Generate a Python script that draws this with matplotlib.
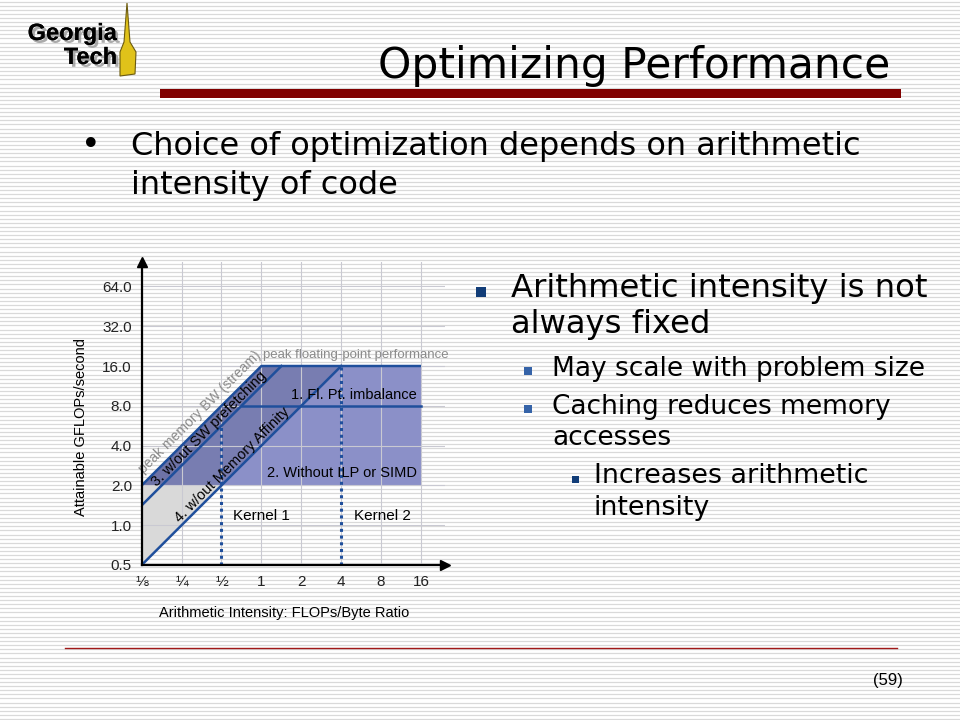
"""Slide: Optimizing Performance - roofline model chart with bullet text."""
import numpy as np
import matplotlib
matplotlib.use("Agg")
import matplotlib.pyplot as plt
import matplotlib.patheffects as pe
from matplotlib.patches import Polygon, Rectangle

# roofline data (GFLOPs/s vs FLOPs/Byte)
ai_ticks = [1 / 8, 1 / 4, 1 / 2, 1, 2, 4, 8, 16]
ai_labels = ["⅛", "¼", "½", "1", "2", "4", "8", "16"]
perf_ticks = [0.5, 1, 2, 4, 8, 16, 32, 64]
perf_labels = ["0.5", "1.0", "2.0", "4.0", "8.0", "16.0", "32.0", "64.0"]

peak_flops = 16.0          # peak floating-point performance
ceil_imbalance = 8.0       # 1. Fl. Pt. imbalance
ceil_no_ilp = 2.0          # 2. Without ILP or SIMD
bw_peak = 16.0             # peak memory BW (stream), GFLOPs per FLOP/Byte
bw_no_prefetch = 11.3      # 3. w/out SW prefetching
bw_no_affinity = 4.0       # 4. w/out Memory Affinity
kernel_ai = [0.5, 4.0]
kernel_names = ["Kernel 1", "Kernel 2"]

ai_min, ai_max = ai_ticks[0], ai_ticks[-1]

BODY = ["DejaVu Sans"]
CHART = ["Liberation Sans", "DejaVu Sans"]
LINE = "#1f4f9c"


def main():
    fig = plt.figure(figsize=(9.6, 7.2), dpi=100)

    # slide background in pixel coords
    bg = fig.add_axes([0, 0, 1, 1])
    bg.set_xlim(0, 960)
    bg.set_ylim(720, 0)
    bg.axis("off")
    for y in np.arange(1.5, 720, 4.1):
        bg.axhline(y, color="#d9d9d9", lw=0.9, zorder=0)

    # logo
    bg.add_patch(Polygon([(127, 3), (130, 42), (136, 52), (135, 74), (120, 76),
                          (120, 52), (124, 42)],
                         closed=True, fc="#e0c21a", ec="#6b5a10", lw=0.8, zorder=2))
    shadow = [pe.withSimplePatchShadow(offset=(2, -2), shadow_rgbFace="#888888",
                                       alpha=0.7), pe.Normal()]
    bg.text(117, 40, "Georgia", fontsize=17, fontweight="heavy", family=CHART,
            ha="right", va="baseline", zorder=3, path_effects=shadow)
    bg.text(117, 64, "Tech", fontsize=17, fontweight="heavy", family=CHART,
            ha="right", va="baseline", zorder=3, path_effects=shadow)

    # title and bar
    bg.text(890, 78, "Optimizing Performance", fontsize=30.5, family=BODY,
            ha="right", va="baseline", zorder=3)
    bg.add_patch(Rectangle((160, 89), 741, 9, fc="#800000", ec="none", zorder=2))

    # top bullet
    bg.text(91, 155, "•", fontsize=24, family=BODY, ha="center", va="baseline")
    bg.text(131, 155, "Choice of optimization depends on arithmetic",
            fontsize=23, family=BODY, va="baseline")
    bg.text(131, 194, "intensity of code", fontsize=23, family=BODY, va="baseline")

    # right bullets
    bg.add_patch(Rectangle((476, 287), 10, 10, fc="#123d78", ec="none"))
    bg.text(511, 297, "Arithmetic intensity is not", fontsize=23.2, family=BODY,
            va="baseline")
    bg.text(511, 333, "always fixed", fontsize=23.2, family=BODY, va="baseline")
    for yb, line in [(376, "May scale with problem size"),
                     (414, "Caching reduces memory")]:
        bg.add_patch(Rectangle((523.5, yb - 9), 8, 8, fc="#3563a8", ec="none"))
        bg.text(552, yb, line, fontsize=19, family=BODY, va="baseline")
    bg.text(552, 445, "accesses", fontsize=19, family=BODY, va="baseline")
    bg.add_patch(Rectangle((572, 476), 7, 7, fc="#123d78", ec="none"))
    bg.text(594, 483, "Increases arithmetic", fontsize=19.4, family=BODY,
            va="baseline")
    bg.text(594, 515, "intensity", fontsize=19.4, family=BODY, va="baseline")

    # footer
    bg.plot([65, 897], [648, 648], color="#a01818", lw=1.0)
    bg.text(888, 681, "(59)", fontsize=12, family=CHART, ha="center", va="center")

    # chart axes placed in pixels
    x0, x1, y0, y1 = 141.7, 445, 565, 262
    ax = fig.add_axes([x0 / 960, (720 - y0) / 720, (x1 - x0) / 960, (y0 - y1) / 720])
    ax.patch.set_alpha(0)
    ax.set_xscale("log", base=2)
    ax.set_yscale("log", base=2)
    ax.set_xlim(ai_min, ai_min * 2 ** ((x1 - x0) / 39.9))
    ax.set_ylim(perf_ticks[0], perf_ticks[0] * 2 ** ((y0 - y1) / 39.8))

    ridge_peak = peak_flops / bw_peak
    ridge_pf = peak_flops / bw_no_prefetch
    ridge_aff = peak_flops / bw_no_affinity
    low_pf = ceil_no_ilp / bw_no_prefetch
    low_aff = ceil_no_ilp / bw_no_affinity

    # gray area below ILP ceiling, left of affinity line
    ax.add_patch(Polygon([(ai_min, bw_no_affinity * ai_min), (low_aff, ceil_no_ilp),
                          (ai_min, ceil_no_ilp)], closed=True, fc="#d9d9d9",
                         ec="none", zorder=1))
    # blue shaded layers
    ax.add_patch(Polygon([(ai_min, ceil_no_ilp), (ridge_peak, peak_flops),
                          (ai_max, peak_flops), (ai_max, ceil_no_ilp)], closed=True,
                         fc="#8b90c8", ec="none", zorder=1))
    ax.add_patch(Polygon([(ai_min, ceil_no_ilp), (ridge_peak, peak_flops),
                          (ridge_aff, peak_flops), (low_aff, ceil_no_ilp)], closed=True,
                         fc="#787db1", ec="none", zorder=1))
    ax.add_patch(Polygon([(ai_min, ceil_no_ilp), (ridge_peak, peak_flops),
                          (ridge_pf, peak_flops), (low_pf, ceil_no_ilp)], closed=True,
                         fc="#6e73a6", ec="none", zorder=1))

    # grid on top of fills
    ax.set_xticks(ai_ticks)
    ax.set_xticklabels(ai_labels)
    ax.set_yticks(perf_ticks)
    ax.set_yticklabels(perf_labels)
    ax.minorticks_off()
    ax.grid(True, color="#c9c9d2", lw=0.8)
    for gl in ax.get_xgridlines() + ax.get_ygridlines():
        gl.set_zorder(2)
    ax.tick_params(length=0, labelsize=11, colors="#222222", pad=7)
    for lab in ax.get_xticklabels() + ax.get_yticklabels():
        lab.set_family(CHART)

    # roof lines
    ax.plot([ai_min, ridge_peak, ai_max], [bw_peak * ai_min, peak_flops, peak_flops],
            color=LINE, lw=1.8, zorder=4, solid_capstyle="butt")
    ax.plot([ai_min, ridge_pf], [bw_no_prefetch * ai_min, peak_flops],
            color=LINE, lw=1.8, zorder=4)
    ax.plot([ai_min, ridge_aff], [bw_no_affinity * ai_min, peak_flops],
            color=LINE, lw=1.8, zorder=4)
    ax.plot([ceil_imbalance / bw_no_prefetch, ai_max], [ceil_imbalance] * 2,
            color=LINE, lw=1.8, zorder=4)

    # kernel markers
    roofs = [min(bw_no_prefetch * k, peak_flops) for k in kernel_ai]
    for k, top in zip(kernel_ai, roofs):
        ax.plot([k, k], [perf_ticks[0], top], color=LINE, lw=2.2, ls=(0, (1, 1.2)),
                zorder=4)
    ax.text(1.0, 1.17, kernel_names[0], fontsize=11, family=CHART, ha="center",
            va="center", zorder=5)
    ax.text(8.2, 1.17, kernel_names[1], fontsize=11, family=CHART, ha="center",
            va="center", zorder=5)

    # labels in the chart
    ax.text(1.03, peak_flops * 1.1, "peak floating-point performance", fontsize=9.5,
            family=CHART, color="#8a8a8a", va="bottom", zorder=5)
    ax.text(14.9, ceil_imbalance * 1.07, "1. Fl. Pt. imbalance", fontsize=10.5,
            family=CHART, ha="right", va="bottom", zorder=5)
    ax.text(14.8, ceil_no_ilp * 1.1, "2. Without ILP or SIMD", fontsize=10.5,
            family=CHART, ha="right", va="bottom", zorder=5)
    ax.text(0.344, 7.2, "peak memory BW (stream)", fontsize=10, family=CHART,
            color="#8a8a8a", rotation=45, rotation_mode="anchor", ha="center",
            va="center", zorder=5)
    ax.text(0.403, 5.34, "3. w/out SW prefetching", fontsize=10.5, family=CHART,
            rotation=45, rotation_mode="anchor", ha="center", va="center", zorder=5)
    ax.text(0.60, 2.85, "4. w/out Memory Affinity", fontsize=10.5, family=CHART,
            rotation=45, rotation_mode="anchor", ha="center", va="center", zorder=5)

    # axes with arrow heads
    for s in ["top", "right"]:
        ax.spines[s].set_visible(False)
    for s in ["left", "bottom"]:
        ax.spines[s].set_linewidth(1.6)
        ax.spines[s].set_zorder(6)
    ax.plot(1, 0, ">k", ms=7, transform=ax.transAxes, clip_on=False, zorder=6)
    ax.plot(0, 1, "^k", ms=7, transform=ax.transAxes, clip_on=False, zorder=6)

    bg.text(284, 613, "Arithmetic Intensity: FLOPs/Byte Ratio", fontsize=10.5,
            family=CHART, ha="center", va="center")
    bg.text(81, 427, "Attainable GFLOPs/second", fontsize=10.5, family=CHART,
            ha="center", va="center", rotation=90)

    fig.savefig("out.png", dpi=100)


if __name__ == "__main__":
    main()
